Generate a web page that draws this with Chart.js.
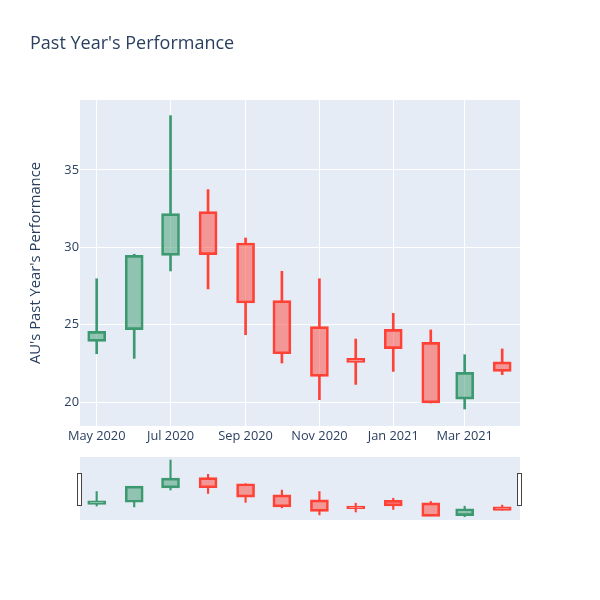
<!DOCTYPE html>
<html>
<head>
<meta charset="utf-8">
<script src="https://cdn.jsdelivr.net/npm/chart.js@4"></script>
<style>
  body { margin: 0; background: #fff; }
  #wrap { position: relative; width: 600px; height: 600px; }
  #main { position: absolute; left: 0; top: 0; }
  #slider { position: absolute; left: 0; top: 450px; }
</style>
</head>
<body>
<div id="wrap">
  <canvas id="main" width="600" height="450"></canvas>
  <canvas id="slider" width="600" height="80"></canvas>
</div>
<script>
// monthly candles
const months = ['2020-05-01', '2020-06-01', '2020-07-01', '2020-08-01', '2020-09-01', '2020-10-01',
  '2020-11-01', '2020-12-01', '2021-01-01', '2021-02-01', '2021-03-01', '2021-04-01'];
const openVals  = [23.92, 24.68, 29.48, 32.31, 30.28, 26.55, 24.87, 22.82, 24.70, 23.86, 20.19, 22.59];
const highVals  = [27.97, 29.55, 38.51, 33.73, 30.60, 28.45, 27.97, 24.07, 25.73, 24.66, 23.06, 23.43];
const lowVals   = [23.12, 22.82, 28.47, 27.31, 24.35, 22.52, 20.15, 21.14, 21.98, 19.94, 19.55, 21.77];
const closeVals = [24.57, 29.48, 32.18, 29.53, 26.40, 23.12, 21.66, 22.56, 23.45, 19.94, 21.92, 21.98];

const xTickDates = ['2020-05-01', '2020-07-01', '2020-09-01', '2020-11-01', '2021-01-01', '2021-03-01'];
const yTicks = [20, 25, 30, 35];
const xRange = ['2020-04-17T05:00:00Z', '2021-04-15T17:00:00Z'];
const yRange = [18.45, 39.52];

const monthNames = ['Jan','Feb','Mar','Apr','May','Jun','Jul','Aug','Sep','Oct','Nov','Dec'];
const UP = '#3D9970', UP_FILL = 'rgba(61,153,112,0.5)';
const DOWN = '#FF4136', DOWN_FILL = 'rgba(255,65,54,0.5)';

Chart.defaults.font.family = '"Open Sans", verdana, arial, sans-serif';
Chart.defaults.color = '#2a3f5f';

const ts = months.map(d => Date.parse(d));
const isUp = openVals.map((o, i) => closeVals[i] >= o);
const lineCols = isUp.map(u => u ? UP : DOWN);
const fillCols = isUp.map(u => u ? UP_FILL : DOWN_FILL);

function makeDatasets(wickW, pad) {
  const body = {
    data: ts.map((x, i) => ({x: x, y: [Math.min(openVals[i], closeVals[i]) - pad, Math.max(openVals[i], closeVals[i]) + pad]})),
    backgroundColor: fillCols,
    borderColor: lineCols,
    borderWidth: 2,
    borderSkipped: false,
    barThickness: 18,
    grouped: false
  };
  const upper = {
    data: ts.map((x, i) => ({x: x, y: [Math.max(openVals[i], closeVals[i]), highVals[i]]})),
    backgroundColor: lineCols,
    borderWidth: 0,
    barThickness: wickW,
    grouped: false
  };
  const lower = {
    data: ts.map((x, i) => ({x: x, y: [lowVals[i], Math.min(openVals[i], closeVals[i])]})),
    backgroundColor: lineCols,
    borderWidth: 0,
    barThickness: wickW,
    grouped: false
  };
  return [body, upper, lower];
}

const plotBg = {
  id: 'plotBg',
  beforeDraw(chart) {
    const a = chart.chartArea, ctx = chart.ctx;
    ctx.save();
    ctx.fillStyle = '#e5ecf6';
    ctx.fillRect(a.left, a.top, a.right - a.left, a.bottom - a.top);
    ctx.restore();
  }
};

new Chart(document.getElementById('main'), {
  type: 'bar',
  data: { datasets: makeDatasets(2, 0) },
  options: {
    responsive: false,
    animation: false,
    layout: { padding: { left: 30, right: 80, top: 0, bottom: 0 } },
    plugins: {
      legend: { display: false },
      tooltip: { enabled: false },
      title: {
        display: true,
        text: "Past Year's Performance",
        align: 'start',
        color: '#2a3f5f',
        font: { size: 18, weight: 'normal' },
        padding: { top: 33, bottom: 45.4 }
      }
    },
    scales: {
      x: {
        type: 'linear',
        min: Date.parse(xRange[0]),
        max: Date.parse(xRange[1]),
        offset: false,
        grid: { color: '#ffffff', drawTicks: false, offset: false },
        border: { display: false },
        ticks: {
          padding: 3,
          maxRotation: 0,
          font: { size: 12.8 },
          callback: v => { const d = new Date(v); return monthNames[d.getUTCMonth()] + ' ' + d.getUTCFullYear(); }
        },
        afterBuildTicks: s => { s.ticks = xTickDates.map(d => ({ value: Date.parse(d) })); },
        afterFit: s => { s.height = 24; }
      },
      y: {
        min: yRange[0],
        max: yRange[1],
        grid: { color: '#ffffff', drawTicks: false },
        border: { display: false },
        ticks: { padding: 1, font: { size: 12.8 } },
        title: {
          display: true,
          text: "AU's Past Year's Performance",
          color: '#2a3f5f',
          font: { size: 14.8 },
          padding: { top: -3.5, bottom: 0 }
        },
        afterBuildTicks: s => { s.ticks = yTicks.map(v => ({ value: v })); },
        afterFit: s => { s.width = 50; }
      }
    }
  },
  plugins: [plotBg]
});

const handles = {
  id: 'handles',
  afterDraw(chart) {
    const a = chart.chartArea, ctx = chart.ctx;
    ctx.save();
    ctx.fillStyle = '#ffffff';
    ctx.strokeStyle = '#444444';
    ctx.lineWidth = 1;
    [a.left - 2, a.right - 2].forEach(x => {
      ctx.fillRect(x, 23.5, 4, 32);
      ctx.strokeRect(x - 0.5, 23.5, 4, 32);
    });
    ctx.restore();
  }
};

new Chart(document.getElementById('slider'), {
  type: 'bar',
  data: { datasets: makeDatasets(1.5, 0.3) },
  options: {
    responsive: false,
    animation: false,
    layout: { padding: { left: 80, right: 80, top: 7, bottom: 10 } },
    plugins: { legend: { display: false }, tooltip: { enabled: false } },
    scales: {
      x: { type: 'linear', display: false, offset: false, min: Date.parse(xRange[0]), max: Date.parse(xRange[1]) },
      y: { display: false, min: yRange[0], max: yRange[1] }
    }
  },
  plugins: [plotBg, handles]
});
</script>
</body>
</html>
